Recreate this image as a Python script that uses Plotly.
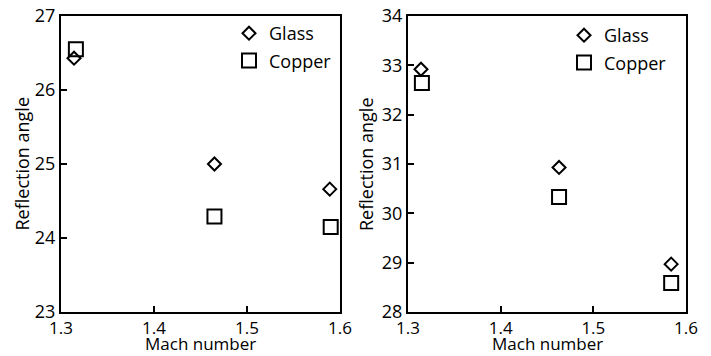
import plotly.graph_objects as go

mach_left = [1.314, 1.465, 1.589]
glass_left = [26.43, 25.0, 24.66]
mach_left_cu = [1.316, 1.465, 1.590]
copper_left = [26.55, 24.29, 24.15]

mach_right = [1.314, 1.463, 1.584]
glass_right = [32.92, 30.93, 28.97]
mach_right_cu = [1.315, 1.463, 1.584]
copper_right = [32.64, 30.33, 28.59]

xticks = [1.3, 1.4, 1.5, 1.6]
xticklabels = ["1.3", "1.4", "1.5", "1.6"]
yticks_left = [23, 24, 25, 26, 27]
yticks_right = [28, 29, 30, 31, 32, 33, 34]
x_title = "Mach number"
y_title = "Reflection angle"

FONT = "Open Sans"
FS = 18
FSX = 17
W, H = 711, 356
mk = dict(color="rgba(0,0,0,0)", line=dict(color="black", width=2))
DSIZE = 10
SSIZE = 14

fig = go.Figure()
fig.add_trace(go.Scatter(x=mach_left, y=glass_left, mode="markers", name="Glass", legendgroup="g1",
                         marker=dict(symbol="diamond", size=DSIZE, **mk), xaxis="x", yaxis="y", legend="legend"))
fig.add_trace(go.Scatter(x=mach_left_cu, y=copper_left, mode="markers", name="Copper", legendgroup="c1",
                         marker=dict(symbol="square", size=SSIZE, **mk), xaxis="x", yaxis="y", legend="legend"))
fig.add_trace(go.Scatter(x=mach_right, y=glass_right, mode="markers", name="Glass", legendgroup="g2",
                         marker=dict(symbol="diamond", size=DSIZE, **mk), xaxis="x2", yaxis="y2", legend="legend2"))
fig.add_trace(go.Scatter(x=mach_right_cu, y=copper_right, mode="markers", name="Copper", legendgroup="c2",
                         marker=dict(symbol="square", size=SSIZE, **mk), xaxis="x2", yaxis="y2", legend="legend2"))

axcommon = dict(showline=True, linecolor="black", linewidth=2, mirror=True, ticks="inside",
                ticklen=6, tickwidth=2, tickcolor="black", showgrid=False, zeroline=False,
                automargin=False)
yfont = dict(family=FONT, size=FS, color="black")
xfont = dict(family=FONT, size=FSX, color="black")

fig.update_layout(
    width=W, height=H, margin=dict(l=0, r=0, t=0, b=0),
    paper_bgcolor="white", plot_bgcolor="white",
    font=dict(family=FONT, color="black"),
    xaxis=dict(domain=[61/W, 340/W], range=[1.3, 1.6], tickvals=xticks, ticktext=xticklabels,
               tickfont=xfont, anchor="y", **axcommon),
    yaxis=dict(domain=[1-312/H, 1-16/H], range=[23, 27], tickvals=yticks_left, tickfont=yfont,
               anchor="x", **axcommon),
    xaxis2=dict(domain=[408/W, 686/W], range=[1.3, 1.6], tickvals=xticks, ticktext=xticklabels,
                tickfont=xfont, anchor="y2", **axcommon),
    yaxis2=dict(domain=[1-312/H, 1-16/H], range=[28, 34], tickvals=yticks_right, tickfont=yfont,
                anchor="x2", **axcommon),
    legend=dict(x=229/W, y=1-15/H, xanchor="left", yanchor="top", bgcolor="rgba(0,0,0,0)",
                font=dict(family=FONT, size=FS), itemwidth=30, traceorder="grouped", tracegroupgap=1),
    legend2=dict(x=564/W, y=1-17/H, xanchor="left", yanchor="top", bgcolor="rgba(0,0,0,0)",
                 font=dict(family=FONT, size=FS), itemwidth=30, traceorder="grouped", tracegroupgap=1),
    showlegend=True,
)

for cx in [(61 + 340) / 2, (408 + 686) / 2]:
    fig.add_annotation(text=x_title, xref="paper", yref="paper", x=cx / W, y=0,
                       xanchor="center", yanchor="bottom", showarrow=False, font=xfont,
                       borderpad=0)
for cx in [21.5, 366]:
    fig.add_annotation(text=y_title, xref="paper", yref="paper", x=cx / W, y=1 - 164 / H,
                       xanchor="center", yanchor="middle", textangle=-90, showarrow=False, font=yfont)

fig.write_html("out.html")
